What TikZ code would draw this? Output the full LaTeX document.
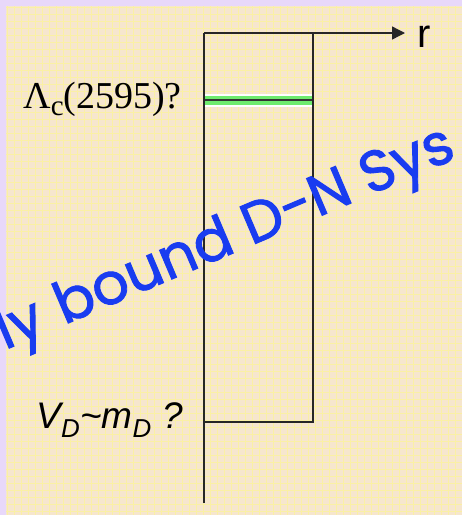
\documentclass[tikz,border=0pt]{standalone}
\usepackage{fontspec}
\setmainfont{Liberation Serif}
\setsansfont{Liberation Sans}
\newfontfamily\handfont[FakeBold=1.6]{Poppins}
\usetikzlibrary{arrows.meta,positioning,calc}
\definecolor{SlideLilac}{RGB}{232,216,250}
\definecolor{SlideBeige}{RGB}{246,230,206}
\definecolor{GridYellow}{RGB}{250,240,165}
\definecolor{LevelGreen}{RGB}{110,235,110}
\definecolor{BoundBlue}{RGB}{25,60,240}

\begin{document}
\begin{tikzpicture}[x=1pt,y=-1pt,
  wall/.style={line width=1.4pt, black!85},
  arr/.style={-{Triangle[length=13pt,width=13pt]}, wall},
  lbl/.style={inner sep=0pt},
  mark text/.style={lbl, rotate=23, text=BoundBlue, font=\handfont\fontsize{57.5}{57.5}\selectfont}
]
  \useasboundingbox (0,0) rectangle (462,515);
  \clip (0,0) rectangle (462,515);
  % slide background
  \fill[SlideLilac] (0,0) rectangle (462,515);
  \fill[SlideBeige] (6,6) rectangle (462,515);
  \draw[GridYellow, line width=0.8pt, step=7pt] (6,6) grid (462,515);

  % well corners
  \coordinate (o) at (204,33);
  \coordinate (rend) at (405,33);
  \coordinate (wtop) at (313,33);
  \coordinate (wbot) at (313,422);
  \coordinate (fl) at (204,422);
  \coordinate (obot) at (204,503);
  \coordinate (lvl) at (204,100);
  \coordinate (lvr) at (313,100);

  % bound level
  \draw[white, line width=13pt] (lvl) -- (lvr);
  \draw[LevelGreen, line width=9pt] (lvl) -- (lvr);
  \draw[black!80, line width=2pt] (lvl) -- (lvr);

  % the well
  \draw[wall] (o) -- (obot);
  \draw[wall] (wtop) -- (wbot) -- (fl);
  \draw[arr] (o) -- (rend);

  \node[lbl, anchor=west, font=\sffamily\fontsize{40}{40}\selectfont] (r) at (417,37) {r};
  \node[lbl, anchor=base east, font=\fontsize{38}{38}\selectfont] (lam) at (182,108)
    {Λ\raisebox{-7pt}{\fontsize{29}{29}\selectfont c}(2595)?};
  \node[lbl, anchor=base east, font=\sffamily\itshape\fontsize{37}{37}\selectfont] (vd) at (183,428)
    {V\textsubscript{D}\textasciitilde m\textsubscript{D} ?};

  % watermark
  \node[mark text, anchor=base west] (bound) at (64,325) {bound D-N Sys};
  \node[mark text, anchor=base east] (bly) at (bound.base west) {bly\kern0.3em};
\end{tikzpicture}
\end{document}
